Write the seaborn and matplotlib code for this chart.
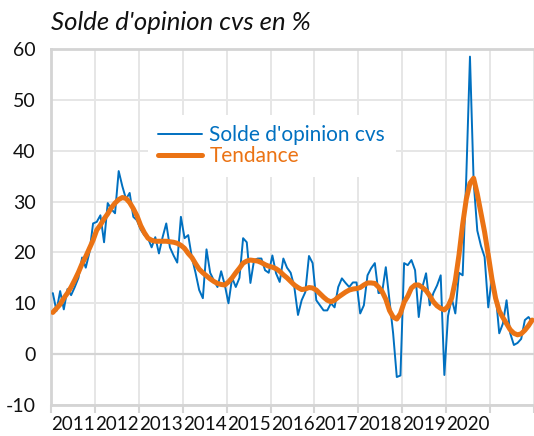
import numpy as np
import pandas as pd
import matplotlib
matplotlib.use("Agg")
import matplotlib.pyplot as plt
import seaborn as sns

# x-axis labels (one per year, Jan 2011 -> Dec 2021 monthly data)
years = [str(y) for y in range(2011, 2021)]

# monthly balance of opinion, seasonally adjusted (blue)
solde = [
    12, 8.5, 12.4, 8.8, 12.8, 11.6, 13.2, 15, 19, 17, 20, 25.7,             # 2011
    26, 27.3, 22, 29.7, 28.5, 27.7, 36, 33, 30.5, 31.7, 27, 26.3,            # 2012
    24.5, 23.4, 22.8, 21, 23, 19.8, 23, 25.7, 21, 19.4, 18, 27,              # 2013
    22.8, 23.4, 19, 16, 12.6, 11, 20.6, 16, 14.5, 13.2, 16.3, 13.6,          # 2014
    10, 15, 13.2, 15, 22.8, 22, 14, 18.5, 18.8, 18.8, 16.5, 16,              # 2015
    19.4, 15.9, 14.2, 18.8, 17, 16, 13.2, 7.7, 10.6, 12.2, 19.3, 17.9,       # 2016
    10.6, 9.6, 8.6, 8.6, 10, 9.2, 13.2, 14.9, 14, 13.2, 14.1, 14.1,          # 2017
    8, 9.6, 15.5, 16.9, 17.9, 12, 12.2, 17.1, 10.6, 4.1, -4.5, -4.2,         # 2018
    17.9, 17.5, 18.5, 16.5, 7.3, 13.2, 15.9, 9.6, 12, 13.5, 15.5, -4.1,      # 2019
    7.5, 11, 8, 16, 15.5, 35, 58.5, 34, 24.3, 21.3, 19.1, 9.2,               # 2020
    15.1, 12, 4.1, 6, 10.6, 4.1, 1.8, 2.2, 3, 6.7, 7.3, 6.3,                 # 2021
]

# trend (orange)
tendance = [
    8.2, 9, 9.8, 11, 12, 13.2, 14.6, 16.1, 17.8, 19.2, 20.8, 22.4,
    24.4, 25.4, 26.6, 27.6, 28.8, 29.7, 30.4, 30.8, 30.6, 29.8, 28.6, 27.2,
    25.3, 23.9, 22.8, 22.4, 22.2, 22.2, 22.2, 22.2, 22.1, 22, 21.8, 21.4,
    20.8, 19.8, 19, 17.8, 16.7, 16, 15.4, 14.8, 14.3, 13.9, 13.7, 13.6,
    14.2, 15, 16, 16.9, 17.9, 18.3, 18.5, 18.4, 18.3, 18, 17.6, 17.3,
    17.1, 16.8, 16.3, 15.6, 15, 14.3, 13.6, 13.1, 12.7, 12.8, 13.1, 13,
    12.6, 11.9, 11.2, 10.6, 10.3, 10.6, 11.2, 11.7, 12.2, 12.6, 12.8, 12.9,
    13.1, 13.6, 14, 14, 13.9, 13.2, 12.3, 10.8, 8.6, 7.3, 6.9, 8,
    10.2, 11.4, 13, 13.6, 13.6, 13.1, 12.5, 11.5, 10.3, 9.5, 9, 8.7,
    9.4, 11, 14.5, 19.5, 25.5, 30.5, 33.6, 34.6, 31.5, 27.8, 24, 19.5,
    14.8, 11, 8.5, 7.2, 6, 4.8, 4.1, 3.8, 4, 4.7, 5.6, 6.7,
]

BLUE = '#0070C0'
ORANGE = '#EB7314'

df = pd.DataFrame({
    'mois': np.arange(len(solde)) + 0.5,
    'Solde': solde,
    'Tendance': tendance,
})

sns.set_theme(style='whitegrid')
plt.rcParams['font.family'] = ['Lato', 'DejaVu Sans']
plt.rcParams['axes.unicode_minus'] = False

fig = plt.figure(figsize=(5.34, 4.36), dpi=100)
ax = fig.add_axes([51 / 534, 31 / 436, 483 / 534, 356 / 436])

sns.lineplot(data=df, x='mois', y='Solde', color=BLUE, lw=1.4, ax=ax,
             label="Solde d'opinion cvs", zorder=3)
sns.lineplot(data=df, x='mois', y='Tendance', color=ORANGE, lw=3.6, ax=ax,
             label='Tendance', zorder=4)

ax.set_xlim(0, len(solde))
ax.set_ylim(-10, 60)
ax.set_yticks(np.arange(-10, 61, 10))
ax.set_xticks(np.arange(0, len(solde) + 1, 12))
ax.set_xticklabels([])
ax.set_xticks(np.arange(6, 12 * len(years), 12), minor=True)
ax.set_xticklabels(years, minor=True)
ax.set_xlabel('')
ax.set_ylabel('')

ax.grid(True, which='major', color='#e6e6e6', lw=1.4)
ax.grid(False, which='minor')
ax.axhline(0, color='#d4d4d4', lw=1.6, zorder=2)

ax.tick_params(axis='x', which='major', length=6, width=1.5, color='#d4d4d4', bottom=True)
ax.tick_params(axis='x', which='minor', length=0, labelsize=13.5, pad=8, labelcolor='#111111')
ax.tick_params(axis='y', length=0, labelsize=14, pad=11, labelcolor='#111111')

for side in ['left', 'bottom', 'top']:
    ax.spines[side].set_color('#d4d4d4')
    ax.spines[side].set_linewidth(2)
ax.spines['right'].set_visible(False)

leg = ax.legend(loc='upper left', bbox_to_anchor=(0.2008, 0.8146), borderaxespad=0,
                frameon=True, facecolor='white', edgecolor='none', framealpha=1,
                fontsize=15, handlelength=2.1, handletextpad=0.35, labelspacing=0.05,
                borderpad=0.5, labelcolor='linecolor')

fig.text(51 / 534, 1 - 22 / 436, "Solde d'opinion cvs en %", style='italic',
         fontsize=18.5, ha='left', va='center', color='#111111')

plt.savefig('out.png', dpi=100)
plt.close(fig)
